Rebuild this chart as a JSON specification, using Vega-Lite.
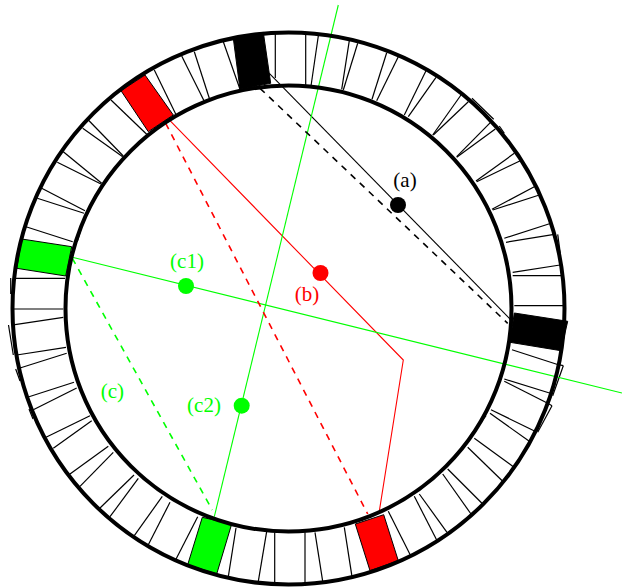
{
"$schema":"https://vega.github.io/schema/vega-lite/v6.json",
"width":622,"height":588,"padding":0,"autosize":{"type":"none"},
"background":"white",
"view":{"stroke":null},
"config":{"axis":{"disable":true},"legend":{"disable":true}},
"datasets":{
"dividers":[
{"x":305.7,"y":85,"x2":305.7,"y2":33},{"x":275.3,"y":78,"x2":275.3,"y2":33},{"x":240,"y":89.3,"x2":223.3,"y2":41.7},{"x":209.3,"y":98.3,"x2":194.3,"y2":51.7},{"x":204,"y":100.7,"x2":181.7,"y2":56},{"x":175.7,"y":114,"x2":154.3,"y2":70},{"x":146.7,"y":134.3,"x2":111,"y2":100},{"x":123.3,"y":156,"x2":88.3,"y2":120},{"x":122.7,"y":156.7,"x2":82.7,"y2":128.3},{"x":101.7,"y":183.3,"x2":63.3,"y2":151.7},{"x":101,"y":184,"x2":57.3,"y2":162.3},{"x":85,"y":210.7,"x2":41.7,"y2":188.3},{"x":84,"y":213.3,"x2":37.3,"y2":198.3},{"x":72.7,"y":241.7,"x2":26,"y2":226.7},{"x":65,"y":278.3,"x2":15.7,"y2":278.3},
{"x":63.3,"y":309,"x2":13.3,"y2":309},{"x":63.3,"y":317.3,"x2":15,"y2":324.7},{"x":66,"y":347.3,"x2":16.7,"y2":355},{"x":66.7,"y":353.3,"x2":20,"y2":368},{"x":74,"y":382.3,"x2":29,"y2":396.7},{"x":76.7,"y":388,"x2":33.3,"y2":409.7},{"x":90,"y":415.7,"x2":46,"y2":437.3},{"x":91.7,"y":420.7,"x2":53.3,"y2":448.3},{"x":108.3,"y":446.3,"x2":70,"y2":474},{"x":113.3,"y":452.3,"x2":80,"y2":486.3},{"x":134,"y":475,"x2":100,"y2":508},{"x":138.3,"y":478.3,"x2":110,"y2":516.7},{"x":162.3,"y":496.3,"x2":134.3,"y2":535.7},{"x":170,"y":502.3,"x2":148.3,"y2":544.7},{"x":197.7,"y":516.7,"x2":175.7,"y2":559.7},{"x":236,"y":528,"x2":228.3,"y2":576.7},{"x":266.7,"y":531.3,"x2":258.3,"y2":581.3},{"x":274.7,"y":532.3,"x2":274.7,"y2":584},{"x":305,"y":532.3,"x2":305,"y2":585.7},
{"x":315,"y":532.3,"x2":322.7,"y2":581.3},{"x":344.3,"y":527.3,"x2":352,"y2":576.7},{"x":388.3,"y":511.3,"x2":410.3,"y2":555},{"x":414.3,"y":496.3,"x2":436.7,"y2":540},{"x":419.3,"y":494,"x2":447,"y2":532.3},{"x":442.7,"y":474,"x2":471,"y2":514},{"x":447.7,"y":469,"x2":482.7,"y2":504},{"x":467.7,"y":447.3,"x2":502.7,"y2":481.3},{"x":474.3,"y":438.3,"x2":513.3,"y2":466.7},{"x":490,"y":413.3,"x2":529.3,"y2":441.3},{"x":491,"y":409.7,"x2":535,"y2":431.3},{"x":504.3,"y":381.3,"x2":547.7,"y2":403.3},{"x":504.3,"y":379,"x2":550.3,"y2":393.3},{"x":512,"y":349.7,"x2":558.3,"y2":364.7},{"x":514.3,"y":305.7,"x2":566,"y2":305.7},
{"x":512.7,"y":275.7,"x2":561.7,"y2":275.7},{"x":512.7,"y":272.3,"x2":560,"y2":265},{"x":506,"y":242.3,"x2":554.3,"y2":234.3},{"x":504.3,"y":238.3,"x2":551,"y2":223.3},{"x":492.7,"y":210,"x2":539.3,"y2":195},{"x":492,"y":209.3,"x2":534.3,"y2":186.7},{"x":476.7,"y":181.7,"x2":520.3,"y2":160.7},{"x":476,"y":181,"x2":514.3,"y2":153.3},{"x":456.7,"y":157.3,"x2":495.3,"y2":129},{"x":456.7,"y":156.7,"x2":490.3,"y2":122.7},{"x":433.3,"y":135,"x2":468.3,"y2":101.7},{"x":432.7,"y":135,"x2":461,"y2":95},{"x":408.3,"y":116.7,"x2":436,"y2":77.3},{"x":404.3,"y":115,"x2":426,"y2":70.7},{"x":376.7,"y":100.7,"x2":398.3,"y2":56.7},{"x":372,"y":99.3,"x2":386.7,"y2":52.7},{"x":343.3,"y":90,"x2":357.7,"y2":43.3},{"x":341.7,"y":89.3,"x2":349.3,"y2":40.7},{"x":311,"y":86,"x2":318.3,"y2":36},
{"x":10.7,"y":278,"x2":10.7,"y2":294},{"x":8.5,"y":325,"x2":13.3,"y2":355},{"x":15.7,"y":369,"x2":20,"y2":381},{"x":29,"y":409,"x2":33,"y2":419},{"x":472,"y":98.3,"x2":493.7,"y2":119.3},{"x":499.3,"y":126,"x2":504.3,"y2":133.3},{"x":557.7,"y":234.3,"x2":560.3,"y2":253.3},{"x":563.3,"y":365.7,"x2":552.7,"y2":395.7},{"x":558.3,"y":364.7,"x2":563.3,"y2":365.7},{"x":552,"y":405.7,"x2":537.7,"y2":432.3},{"x":547.7,"y":403.3,"x2":552,"y2":405.7},{"x":470.3,"y":435.7,"x2":486,"y2":415.7},{"x":417,"y":490.7,"x2":432.7,"y2":479},{"x":77.3,"y":241.7,"x2":81.7,"y2":226.7}
],
"boxes":[
{"box":"b1","c":"black","i":0,"x":233.3,"y":38.3},{"box":"b1","c":"black","i":1,"x":263.3,"y":32.3},{"box":"b1","c":"black","i":2,"x":270.7,"y":83.3},{"box":"b1","c":"black","i":3,"x":240,"y":89.3},{"box":"b1","c":"black","i":4,"x":233.3,"y":38.3},
{"box":"b2","c":"black","i":0,"x":514.3,"y":313},{"box":"b2","c":"black","i":1,"x":567.7,"y":321.3},{"box":"b2","c":"black","i":2,"x":561,"y":350.7},{"box":"b2","c":"black","i":3,"x":510,"y":342.3},{"box":"b2","c":"black","i":4,"x":514.3,"y":313},
{"box":"r1","c":"red","i":0,"x":121,"y":90.7},{"box":"r1","c":"red","i":1,"x":145,"y":75},{"box":"r1","c":"red","i":2,"x":173.3,"y":115},{"box":"r1","c":"red","i":3,"x":148.3,"y":131.7},{"box":"r1","c":"red","i":4,"x":121,"y":90.7},
{"box":"r2","c":"red","i":0,"x":355.3,"y":524},{"box":"r2","c":"red","i":1,"x":383.7,"y":514.7},{"box":"r2","c":"red","i":2,"x":398.3,"y":560.7},{"box":"r2","c":"red","i":3,"x":370,"y":570.7},{"box":"r2","c":"red","i":4,"x":355.3,"y":524},
{"box":"g1","c":"green","i":0,"x":21.7,"y":239},{"box":"g1","c":"green","i":1,"x":71.7,"y":246.7},{"box":"g1","c":"green","i":2,"x":65.7,"y":276},{"box":"g1","c":"green","i":3,"x":16.7,"y":268.3},{"box":"g1","c":"green","i":4,"x":21.7,"y":239},
{"box":"g2","c":"green","i":0,"x":202.3,"y":517.3},{"box":"g2","c":"green","i":1,"x":231.7,"y":524},{"box":"g2","c":"green","i":2,"x":216.7,"y":574},{"box":"g2","c":"green","i":3,"x":187.7,"y":564.7},{"box":"g2","c":"green","i":4,"x":202.3,"y":517.3}
],
"rays":[
{"ray":"a solid","c":"black","s":"solid","i":0,"x":269.3,"y":73.3},{"ray":"a solid","c":"black","s":"solid","i":1,"x":511,"y":320},
{"ray":"b solid","c":"red","s":"solid","i":0,"x":170,"y":120.7},{"ray":"b solid","c":"red","s":"solid","i":1,"x":403.3,"y":360},{"ray":"b solid","c":"red","s":"solid","i":2,"x":379.3,"y":511.3},
{"ray":"c1 solid","c":"green","s":"solid","i":0,"x":72.3,"y":257.3},{"ray":"c1 solid","c":"green","s":"solid","i":1,"x":622,"y":393},
{"ray":"c2 solid","c":"green","s":"solid","i":0,"x":214.3,"y":516.7},{"ray":"c2 solid","c":"green","s":"solid","i":1,"x":338.3,"y":5}
],
"dashes":[
{"ray":"a dashed","c":"black","s":"dashed","i":0,"x":260,"y":88.3},{"ray":"a dashed","c":"black","s":"dashed","i":1,"x":507.7,"y":323.3},
{"ray":"b dashed","c":"red","s":"dashed","i":0,"x":165.7,"y":123.3},{"ray":"b dashed","c":"red","s":"dashed","i":1,"x":367.7,"y":514},
{"ray":"c dashed","c":"green","s":"dashed","i":0,"x":72.3,"y":258.3},{"ray":"c dashed","c":"green","s":"dashed","i":1,"x":212.3,"y":510}
],
"dots":[{"c":"black","x":398,"y":205},{"c":"red","x":320.5,"y":273},{"c":"green","x":186,"y":286},{"c":"green","x":241.7,"y":405.7}],
"labels":[{"t":"(a)","c":"black","x":405,"y":181},{"t":"(b)","c":"red","x":307,"y":295},{"t":"(c1)","c":"green","x":187,"y":262},{"t":"(c)","c":"green","x":112.3,"y":392},{"t":"(c2)","c":"green","x":204,"y":405.7}],
"centre":[{"x":288.5,"y":308.5}]
},
"encoding":{
"x":{"field":"x","type":"quantitative","scale":{"domain":[0,622],"nice":false,"zero":false},"axis":null},
"y":{"field":"y","type":"quantitative","scale":{"domain":[588,0],"nice":false,"zero":false},"axis":null}
},
"layer":[
{"data":{"name":"dividers"},"mark":{"type":"rule","stroke":"black","strokeWidth":1.2},"encoding":{"x2":{"field":"x2"},"y2":{"field":"y2"}}},
{"data":{"name":"rays"},"mark":{"type":"line","strokeWidth":1.1,"clip":true},"encoding":{"detail":{"field":"ray"},"order":{"field":"i"},"color":{"field":"c","type":"nominal","scale":{"domain":["black","red","green"],"range":["#000000","#ff0000","#00ff00"]},"legend":null}}},
{"data":{"name":"dashes"},"mark":{"type":"line","strokeWidth":1.6,"strokeDash":[6.5,6],"clip":true},"encoding":{"detail":{"field":"ray"},"order":{"field":"i"},"color":{"field":"c","type":"nominal","scale":{"domain":["black","red","green"],"range":["#000000","#ff0000","#00ff00"]},"legend":null}}},
{"data":{"name":"boxes"},"transform":[{"filter":"datum.c=='black'"}],"mark":{"type":"line","fill":"#000000","stroke":"#000000","strokeWidth":1},"encoding":{"detail":{"field":"box"},"order":{"field":"i"}}},
{"data":{"name":"boxes"},"transform":[{"filter":"datum.c=='red'"}],"mark":{"type":"line","fill":"#ff0000","stroke":"#000000","strokeWidth":1},"encoding":{"detail":{"field":"box"},"order":{"field":"i"}}},
{"data":{"name":"boxes"},"transform":[{"filter":"datum.c=='green'"}],"mark":{"type":"line","fill":"#00ff00","stroke":"#000000","strokeWidth":1},"encoding":{"detail":{"field":"box"},"order":{"field":"i"}}},
{"data":{"name":"centre"},"mark":{"type":"point","shape":"circle","size":304704,"stroke":"black","strokeWidth":4,"fill":null,"opacity":1}},
{"data":{"name":"centre"},"mark":{"type":"point","shape":"circle","size":198916,"stroke":"black","strokeWidth":4,"fill":null,"opacity":1}},
{"data":{"name":"dots"},"mark":{"type":"point","shape":"circle","filled":true,"size":256,"opacity":1},"encoding":{"fill":{"field":"c","type":"nominal","scale":{"domain":["black","red","green"],"range":["#000000","#ff0000","#00ff00"]},"legend":null}}},
{"data":{"name":"labels"},"mark":{"type":"text","font":"Liberation Serif","fontSize":21,"align":"center","baseline":"middle"},"encoding":{"text":{"field":"t"},"color":{"field":"c","type":"nominal","scale":{"domain":["black","red","green"],"range":["#000000","#ff0000","#00ff00"]},"legend":null}}}
]
}
